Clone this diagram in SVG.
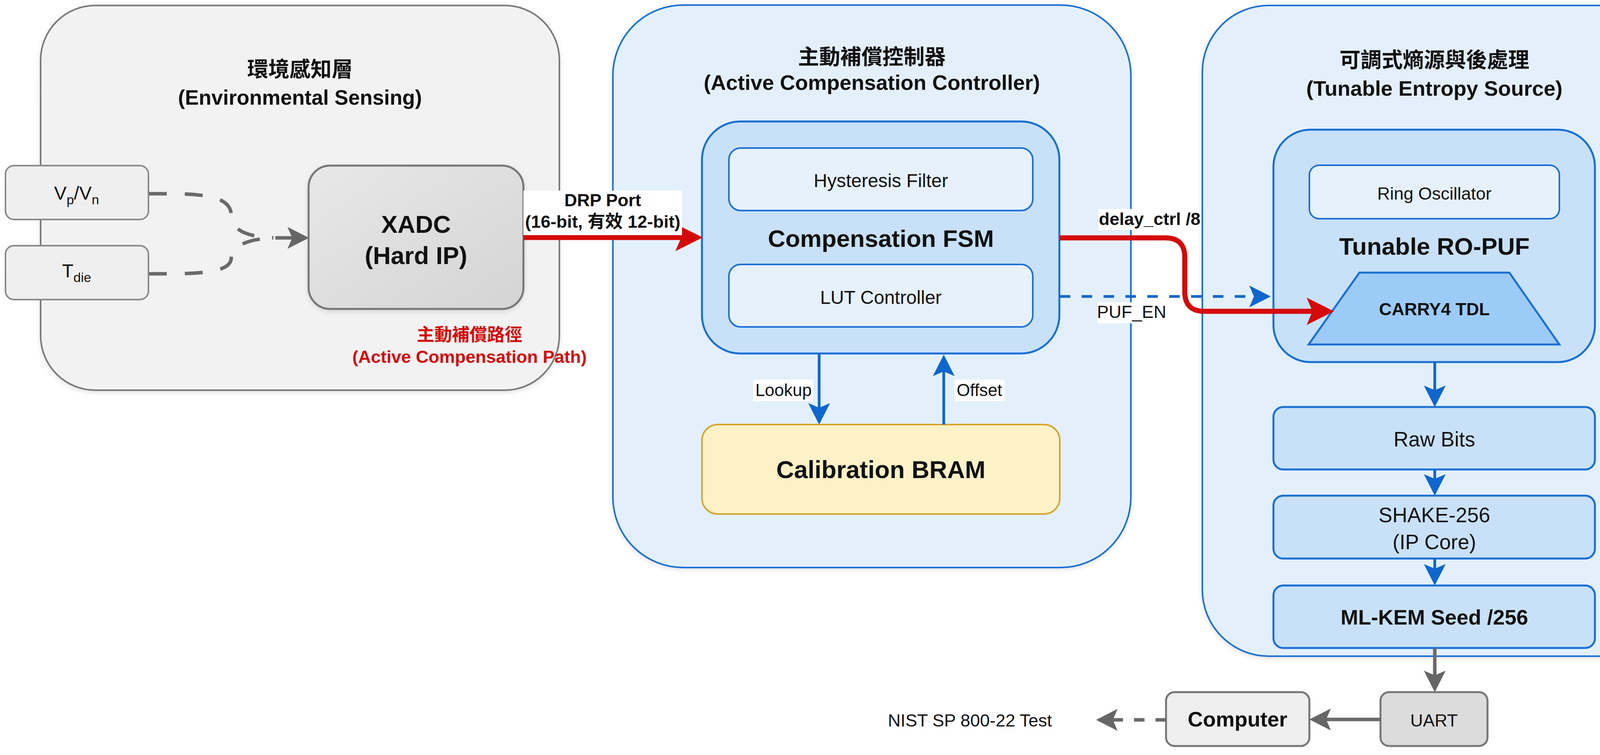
<svg xmlns="http://www.w3.org/2000/svg" width="4290" height="1933" viewBox="0 0 4290 1933">
<defs>
<style>
text{font-family:"Liberation Sans","Noto Sans CJK TC",sans-serif;fill:#111;}
.b{font-weight:bold;}
.m{text-anchor:middle;}
.grayC{fill:#f2f2f2;stroke:#7a7a7a;stroke-width:4;}
.blueC{fill:#e3f0fc;stroke:#1a6fd4;stroke-width:4;}
.blueM{fill:#c8e1f8;stroke:#1a6fd4;stroke-width:5;}
.blueL{fill:#e6f1fc;stroke:#1a6fd4;stroke-width:4;}
.grayB{fill:#efefef;stroke:#8a8a8a;stroke-width:4;}
.grayD{fill:#dcdcdc;stroke:#777;stroke-width:5;}
.lbl{fill:#fff;stroke:none;}
.red{fill:none;stroke:#d40a0a;stroke-width:13;}
.blu{fill:none;stroke:#0f66cc;stroke-width:7;}
.gry{fill:none;stroke:#6a6a6a;stroke-width:9;}
</style>
<marker id="aBlue" markerUnits="userSpaceOnUse" viewBox="0 0 55 56" markerWidth="55" markerHeight="56" refX="12" refY="28" orient="auto" overflow="visible">
<path d="M0,0 L55,28 L0,56 L12,28 Z" fill="#0f66cc"/>
</marker>
<marker id="aRed" markerUnits="userSpaceOnUse" viewBox="0 0 70 70" markerWidth="70" markerHeight="70" refX="15" refY="35" orient="auto" overflow="visible">
<path d="M0,0 L70,35 L0,70 L15,35 Z" fill="#d40a0a"/>
</marker>
<marker id="aGray" markerUnits="userSpaceOnUse" viewBox="0 0 55 56" markerWidth="55" markerHeight="56" refX="12" refY="28" orient="auto" overflow="visible">
<path d="M0,0 L55,28 L0,56 L12,28 Z" fill="#666"/>
</marker>
<filter id="sh" x="-10%" y="-10%" width="120%" height="120%">
<feDropShadow dx="0" dy="4" stdDeviation="6" flood-color="#000" flood-opacity="0.12"/>
</filter>
<linearGradient id="gX" x1="0" y1="0" x2="1" y2="1">
<stop offset="0" stop-color="#e8e8e8"/>
<stop offset="1" stop-color="#d4d4d4"/>
</linearGradient>
</defs>
<rect width="4290" height="1933" fill="#ffffff"/>

<g id="env-layer">
<rect class="grayC" x="104" y="14" width="1328" height="985" rx="140" filter="url(#sh)"/>
<text class="b m" x="768" y="197" font-size="54">環境感知層</text>
<text class="b m" x="768" y="268" font-size="53">(Environmental Sensing)</text>
<text class="b m" x="1202" y="873" font-size="45" style="fill:#d40a0a">主動補償路徑</text>
<text class="b m" x="1202" y="929" font-size="45" style="fill:#d40a0a">(Active Compensation Path)</text>
</g>

<g id="controller-layer">
<rect class="blueC" x="1569" y="13" width="1326" height="1440" rx="180" filter="url(#sh)"/>
<text class="b m" x="2232" y="165" font-size="54">主動補償控制器</text>
<text class="b m" x="2232" y="230" font-size="54">(Active Compensation Controller)</text>
</g>

<g id="entropy-layer">
<rect class="blueC" x="3078" y="14" width="1188" height="1666" rx="170" filter="url(#sh)"/>
<text class="b m" x="3672" y="173" font-size="54">可調式熵源與後處理</text>
<text class="b m" x="3672" y="245" font-size="54">(Tunable Entropy Source)</text>
</g>

<g id="vpvn">
<rect class="grayB" x="14" y="424" width="366" height="138" rx="22"/>
<text class="m" x="196" y="511" font-size="48">V<tspan dy="12" font-size="34">p</tspan><tspan dy="-12">/V</tspan><tspan dy="12" font-size="34">n</tspan></text>
</g>

<g id="tdie">
<rect class="grayB" x="14" y="629" width="366" height="138" rx="22"/>
<text class="m" x="196" y="710" font-size="48">T<tspan dy="12" font-size="34">die</tspan></text>
</g>

<g id="xadc">
<rect x="790" y="424" width="550" height="367" rx="55" fill="url(#gX)" stroke="#777" stroke-width="5" filter="url(#sh)"/>
<text class="b m" x="1065" y="596" font-size="63">XADC</text>
<text class="b m" x="1065" y="676" font-size="63">(Hard IP)</text>
</g>

<g id="fsm">
<rect class="blueM" x="1797" y="311" width="915" height="594" rx="98"/>
<text class="b m" x="2255" y="632" font-size="62">Compensation FSM</text>
</g>

<g id="hysteresis">
<rect class="blueL" x="1866" y="379" width="778" height="160" rx="30"/>
<text class="m" x="2255" y="479" font-size="48">Hysteresis Filter</text>
</g>

<g id="lut">
<rect class="blueL" x="1866" y="677" width="778" height="160" rx="30"/>
<text class="m" x="2255" y="778" font-size="48">LUT Controller</text>
</g>

<g id="bram">
<rect x="1797" y="1087" width="916" height="229" rx="40" fill="#fdf1c7" stroke="#d6a52a" stroke-width="4"/>
<text class="b m" x="2255" y="1224" font-size="63">Calibration BRAM</text>
</g>

<g id="ropuf">
<rect class="blueM" x="3260" y="332" width="823" height="595" rx="95"/>
<text class="b m" x="3672" y="652" font-size="62">Tunable RO-PUF</text>
</g>

<g id="ring-osc">
<rect class="blueL" x="3352" y="423" width="640" height="137" rx="25"/>
<text class="m" x="3672" y="511" font-size="45">Ring Oscillator</text>
</g>

<g id="carry4">
<polygon points="3480,698 3864,698 3992,882 3350,882" fill="#9ccbf7" stroke="#1a6fd4" stroke-width="5"/>
<text class="b m" x="3672" y="807" font-size="45">CARRY4 TDL</text>
</g>

<g id="rawbits">
<rect class="blueM" x="3260" y="1042" width="823" height="160" rx="25"/>
<text class="m" x="3672" y="1143" font-size="53">Raw Bits</text>
</g>

<g id="shake">
<rect class="blueM" x="3260" y="1269" width="823" height="161" rx="25"/>
<text class="m" x="3672" y="1337" font-size="53">SHAKE-256</text>
<text class="m" x="3672" y="1406" font-size="53">(IP Core)</text>
</g>

<g id="mlkem">
<rect class="blueM" x="3260" y="1499" width="823" height="160" rx="25"/>
<text class="b m" x="3672" y="1599" font-size="54">ML-KEM Seed /256</text>
</g>

<g id="uart">
<rect class="grayD" x="3534" y="1772" width="274" height="138" rx="22"/>
<text class="m" x="3671" y="1860" font-size="45">UART</text>
</g>

<g id="computer">
<rect class="grayB" x="2985" y="1772" width="367" height="138" rx="22" style="stroke:#777;stroke-width:5"/>
<text class="b m" x="3168" y="1860" font-size="54">Computer</text>
</g>

<g id="nist">
<text class="m" x="2483" y="1860" font-size="45">NIST SP 800-22 Test</text>
</g>

<g id="connectors">
<path class="gry" d="M381,496 L430,496 C545,496 592,510 592,552 C592,592 640,607 700,609" stroke-dasharray="46 46"/>
<path class="gry" d="M381,701 L430,701 C545,701 592,690 592,660 C592,628 640,611 700,609" stroke-dasharray="46 46"/>
<path class="gry" d="M705,609 L748,609" marker-end="url(#aGray)"/>

<path class="red" d="M1340,608 L1744,608" marker-end="url(#aRed)"/>
<rect class="lbl" x="1340" y="488" width="406" height="114"/>
<text class="b m" x="1543" y="528" font-size="45">DRP Port</text>
<text class="b m" x="1543" y="583" font-size="45">(16-bit, 有效 12-bit)</text>

<path class="red" d="M2713,609 L2983,609 Q3033,609 3033,659 L3033,747 Q3033,797 3083,797 L3360,797" marker-end="url(#aRed)"/>
<rect class="lbl" x="2812" y="535" width="262" height="54"/>
<text class="b m" x="2943" y="576" font-size="45">delay_ctrl /8</text>

<path class="blu" d="M2713,759 L3210,759" stroke-width="10" stroke-dasharray="27 29" marker-end="url(#aBlue)"/>
<rect class="lbl" x="2809" y="774" width="177" height="54"/>
<text class="m" x="2897" y="814" font-size="45">PUF_EN</text>

<path class="blu" d="M2097,905 L2097,1044" marker-end="url(#aBlue)"/>
<rect class="lbl" x="1928" y="972" width="154" height="55"/>
<text x="2078" y="1014" font-size="44" text-anchor="end">Lookup</text>
<path class="blu" d="M2416,1087 L2416,951" marker-end="url(#aBlue)"/>
<rect class="lbl" x="2444" y="972" width="128" height="55"/>
<text x="2449" y="1014" font-size="44">Offset</text>

<path class="blu" d="M3673,927 L3673,999" marker-end="url(#aBlue)"/>
<path class="blu" d="M3673,1202 L3673,1226" marker-end="url(#aBlue)"/>
<path class="blu" d="M3673,1430 L3673,1456" marker-end="url(#aBlue)"/>

<path class="gry" d="M3673,1659 L3673,1729" marker-end="url(#aGray)"/>
<path class="gry" d="M3534,1842 L3395,1842" stroke-width="12" marker-end="url(#aGray)"/>
<path class="gry" d="M2985,1843 L2849,1843" stroke-width="12" stroke-dasharray="27 28" marker-end="url(#aGray)"/>
</g>
</svg>
